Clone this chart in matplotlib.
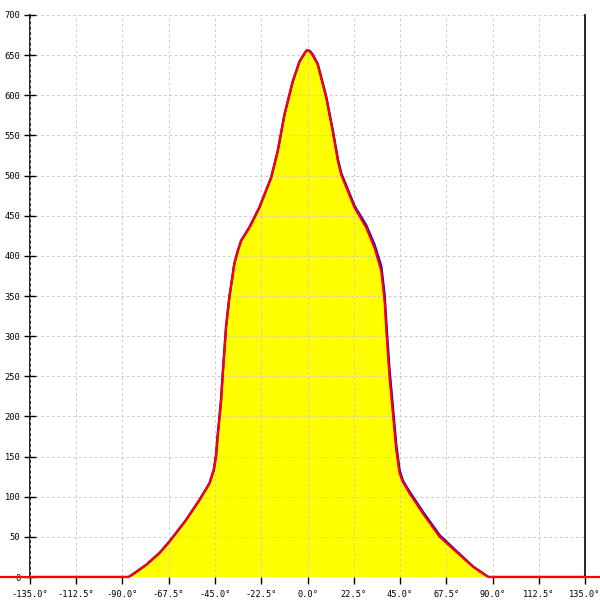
import numpy as np
import matplotlib
matplotlib.use("Agg")
import matplotlib.pyplot as plt

# angle (deg) and counts
angles = [-150, -87, -84.3, -78.6, -72.1, -67.2, -59.1, -52.6, -47.7, -45.6, -44.5, -43.7,
          -42.9, -42.0, -41.3, -39.6, -38.0, -35.6, -33.9, -32.3, -28.3, -23.4, -17.7, -14.5,
          -11.2, -7.2, -3.9, -1.5, -0.3, 1.0, 2.5, 5.0, 9.1, 12.3, 14.8, 16.4, 22.9, 28.6, 32.6, 35.9,
          37.5, 38.6, 39.9, 41.5, 43.2, 44.8, 46.4, 49.7, 56.2, 64.3, 72.4, 80.5, 87.0, 88.0, 150]
red_vals = [0, 0, 4.6, 14.9, 29.4, 43.9, 70.8, 95.7, 116.4, 132.9, 149.4, 174.3,
            195, 220, 249, 311, 348, 390, 406, 418.6, 435, 460, 497, 530,
            576, 617, 642, 652, 656, 655, 650, 638, 597, 555, 518, 501, 460, 435, 410, 381,
            344, 298, 249, 205, 158, 129, 118.5, 104, 79, 50, 31.4, 12.8, 1.6, 0, 0]
blue_vals = [0, 0, 4.6, 15, 29.8, 44.2, 71, 96, 116.8, 133.5, 152, 177,
             198, 223, 252, 313, 349, 390.5, 406.5, 419, 435.5, 460.5, 497.5, 530.5,
             576, 617, 642, 652, 656, 655.5, 651, 639, 598.5, 556.5, 520, 503, 462, 438, 414, 387,
             352, 307, 258, 213, 164, 133, 120, 106, 81, 52, 32.4, 13.2, 1.8, 0, 0]

x_ticks = [-135.0, -112.5, -90.0, -67.5, -45.0, -22.5, 0.0, 22.5, 45.0, 67.5, 90.0, 112.5, 135.0]
y_ticks = list(range(0, 701, 50))

fig = plt.figure(figsize=(6, 6), dpi=100)
ax = fig.add_axes([0.05, 0.0383, 0.925, 0.9367])

ax.fill_between(angles, red_vals, 0, color="#ffff00", linewidth=0, zorder=1)
ax.plot(angles, blue_vals, color="#0000ff", lw=1.7, zorder=3)
ax.plot(angles, red_vals, color="#ff0000", lw=1.6, zorder=4, clip_on=False)

ax.set_xlim(-135, 135)
ax.set_ylim(0, 700)
ax.set_xticks(x_ticks)
ax.set_xticklabels([f"{v:.1f}°" for v in x_ticks])
ax.set_yticks(y_ticks)

ax.set_axisbelow(False)
ax.grid(True, color="#c8c8c8", linestyle=(0, (2.5, 3)), linewidth=0.7)

ax.spines["top"].set_visible(False)
ax.spines["bottom"].set_visible(False)
for s in ["left", "right"]:
    ax.spines[s].set_linewidth(1.2)
    ax.spines[s].set_color("black")

ax.tick_params(axis="y", direction="inout", length=8, width=1, pad=3, labelsize=6.3)
ax.tick_params(axis="x", direction="out", length=5, width=1, pad=4, labelsize=6.2)
for lab in ax.get_xticklabels() + ax.get_yticklabels():
    lab.set_family("DejaVu Sans Mono")

fig.savefig("out.png", dpi=100)
